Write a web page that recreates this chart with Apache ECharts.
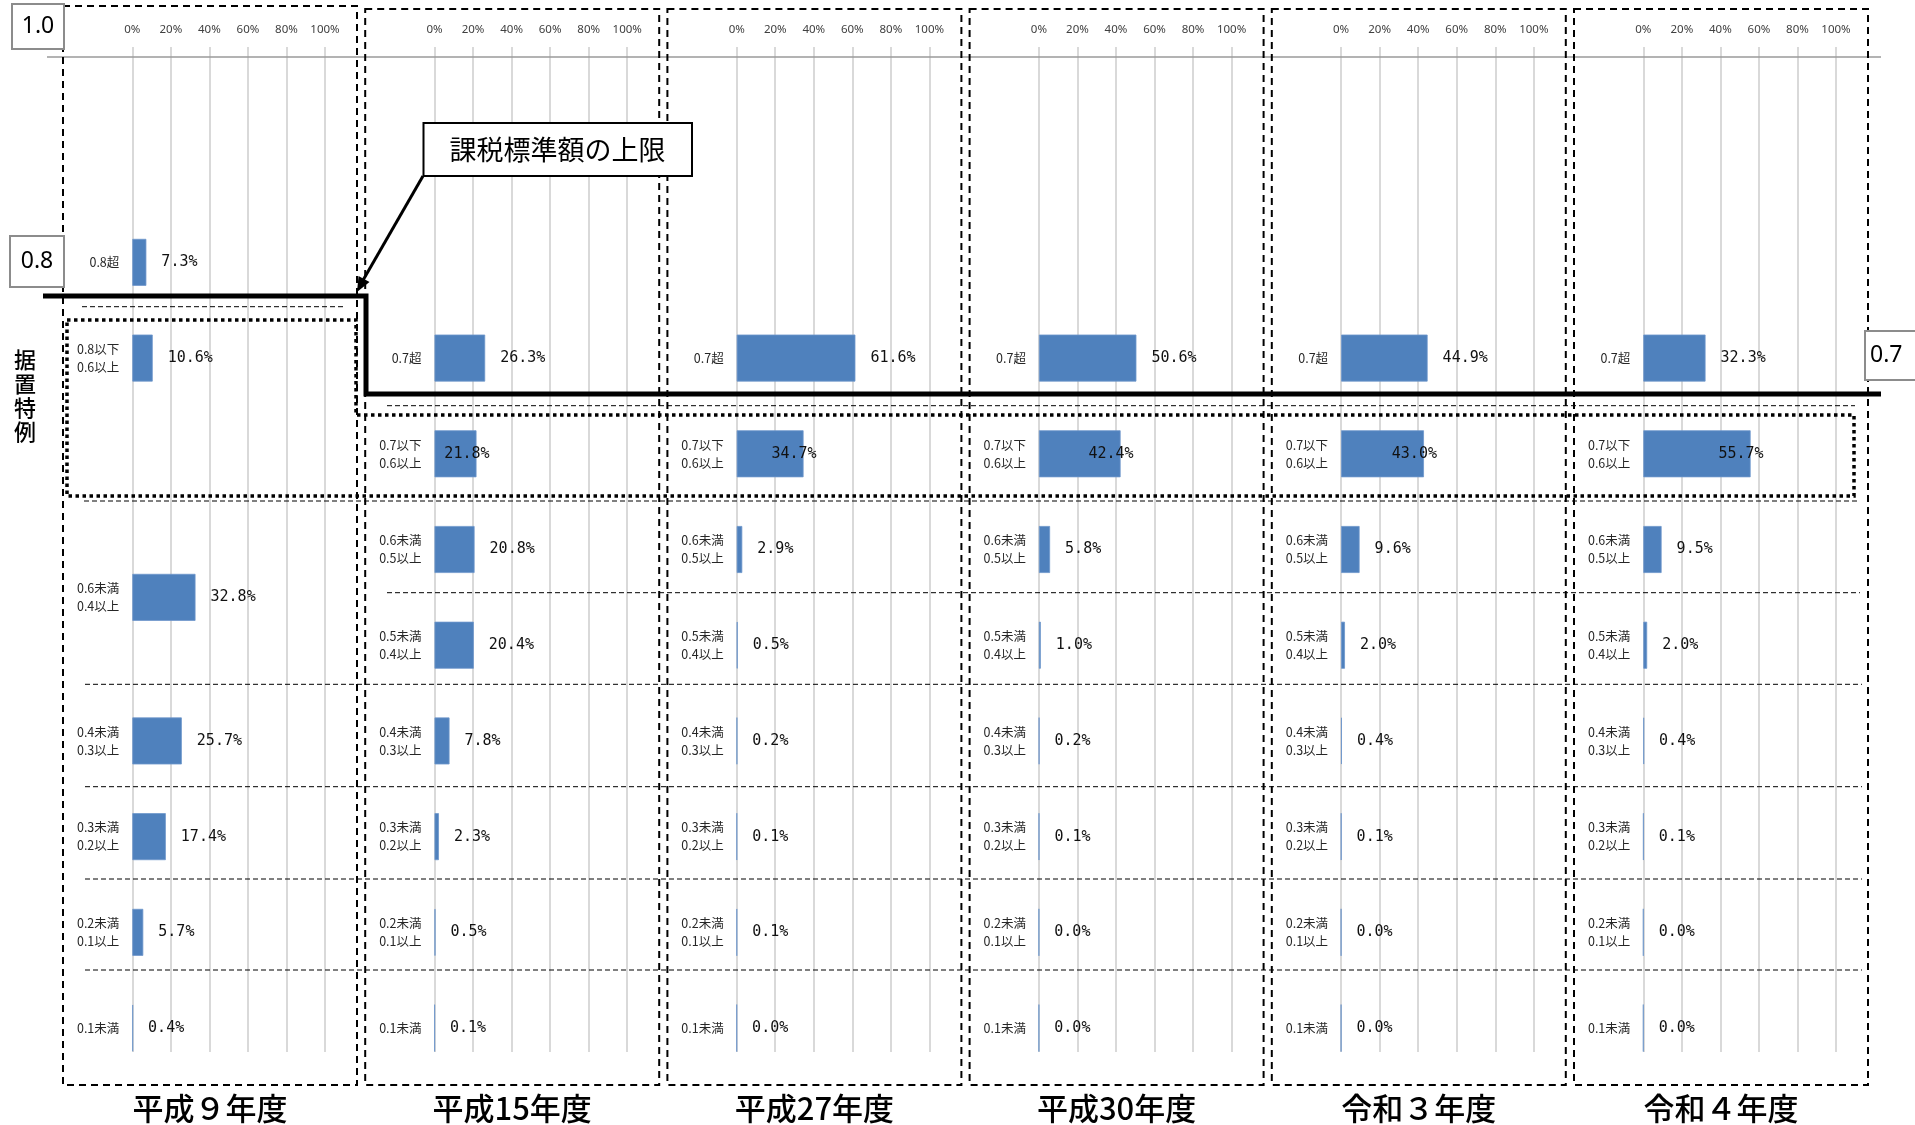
<!DOCTYPE html>
<html>
<head>
<meta charset="utf-8">
<script src="https://cdn.jsdelivr.net/npm/echarts/dist/echarts.min.js"></script>
<style>
html,body{margin:0;padding:0;background:#fff;}
#chart{width:1915px;height:1125px;}
</style>
</head>
<body>
<div id="chart"></div>
<script>
// ---------------- data ----------------
const years = ['平成９年度', '平成15年度', '平成27年度', '平成30年度', '令和３年度', '令和４年度'];
const rowsH9 = ['0.8超', '0.8以下\n0.6以上', '0.6未満\n0.4以上', '0.4未満\n0.3以上', '0.3未満\n0.2以上', '0.2未満\n0.1以上', '0.1未満'];
const rowsLater = ['0.7超', '0.7以下\n0.6以上', '0.6未満\n0.5以上', '0.5未満\n0.4以上', '0.4未満\n0.3以上', '0.3未満\n0.2以上', '0.2未満\n0.1以上', '0.1未満'];
const valuesH9  = [7.3, 10.6, 32.8, 25.7, 17.4, 5.7, 0.4];
const valuesH15 = [26.3, 21.8, 20.8, 20.4, 7.8, 2.3, 0.5, 0.1];
const valuesH27 = [61.6, 34.7, 2.9, 0.5, 0.2, 0.1, 0.1, 0.0];
const valuesH30 = [50.6, 42.4, 5.8, 1.0, 0.2, 0.1, 0.0, 0.0];
const valuesR3  = [44.9, 43.0, 9.6, 2.0, 0.4, 0.1, 0.0, 0.0];
const valuesR4  = [32.3, 55.7, 9.5, 2.0, 0.4, 0.1, 0.0, 0.0];
const axisMin = 0, axisMax = 100, axisStep = 20;
const upperLimitLabel = '課税標準額の上限';
const specialLabel = '据置特例';
const levelLabels = ['1.0', '0.8', '0.7'];

// ---------------- layout ----------------
const SLOTS = 21;                        // half-row slots on the category axis
const slotsH9 = [4, 6, 11, 14, 16, 18, 20];
const slotsLater = [6, 8, 10, 12, 14, 16, 18, 20];
const panels = [
  {title: years[0], rows: rowsH9, slots: slotsH9, values: valuesH9, inside: -1},
  {title: years[1], rows: rowsLater, slots: slotsLater, values: valuesH15, inside: 1},
  {title: years[2], rows: rowsLater, slots: slotsLater, values: valuesH27, inside: 1},
  {title: years[3], rows: rowsLater, slots: slotsLater, values: valuesH30, inside: 1},
  {title: years[4], rows: rowsLater, slots: slotsLater, values: valuesR3, inside: 1},
  {title: years[5], rows: rowsLater, slots: slotsLater, values: valuesR4, inside: 1}
];
const STEP = 302.2, GRID_LEFT = 132.3, GRID_W = 192.7, GRID_TOP = 47, GRID_H = 1005;
const PANEL_LEFT = 63, PANEL_W = 294, PANEL_BOTTOM = 1085;

const grids = [], xAxes = [], yAxes = [], series = [], graphics = [];
panels.forEach((p, i) => {
  grids.push({left: GRID_LEFT + i * STEP, top: GRID_TOP, width: GRID_W, height: GRID_H});
  xAxes.push({
    type: 'value', gridIndex: i, position: 'top', min: axisMin, max: axisMax, interval: axisStep,
    axisLine: {show: false}, axisTick: {show: false},
    axisLabel: {formatter: '{value}%', margin: 11, fontFamily: 'Noto Sans', fontSize: 11.5, color: '#404040'},
    splitLine: {show: true, lineStyle: {color: '#d9d9d9', width: 2}}
  });
  const cats = new Array(SLOTS).fill('');
  const data = new Array(SLOTS).fill('-');
  p.slots.forEach((s, k) => {
    cats[s] = p.rows[k];
    const item = {value: p.values[k]};
    if (k === p.inside) item.label = {position: 'insideRight', distance: -13};
    data[s] = item;
  });
  yAxes.push({
    type: 'category', gridIndex: i, inverse: true, data: cats,
    axisLine: {show: false}, axisTick: {show: false}, splitLine: {show: false},
    axisLabel: {interval: 0, margin: 13, fontFamily: 'Noto Sans CJK JP', fontSize: 12.5, lineHeight: 18, color: '#262626', align: 'right'}
  });
  series.push({
    type: 'bar', xAxisIndex: i, yAxisIndex: i, data: data, barWidth: 47,
    itemStyle: {color: '#4f81bd', borderColor: '#6f97cc', borderWidth: 0.8},
    label: {show: true, position: 'right', distance: 15, fontFamily: 'DejaVu Sans Mono', fontSize: 15, color: '#111',
      formatter: (q) => q.value.toFixed(1) + '%'},
    animation: false, silent: true
  });
  // panel dashed border
  const pl = PANEL_LEFT + i * STEP;
  const pt = i === 0 ? 6 : 9;
  graphics.push({type: 'rect', z: 50, shape: {x: pl, y: pt, width: PANEL_W, height: PANEL_BOTTOM - pt},
    style: {fill: 'none', stroke: '#000', lineWidth: 2, lineDash: [7, 5]}});
  // year title
  graphics.push({type: 'text', z: 60, x: pl + PANEL_W / 2, y: 1108,
    style: {text: p.title, fill: '#000', font: '500 31px "Noto Sans CJK JP"', align: 'center', verticalAlign: 'middle'}});
});

// thin dashed row separators [y, x1, x2]
const seps = [[306.7, 82, 345], [405.7, 387, 1855], [501, 84, 1858], [592.7, 387, 1860],
              [684.3, 85, 1862], [786.7, 85, 1862], [879, 85, 1862], [970, 85, 1862]];
seps.forEach(s => graphics.push({type: 'line', z: 40, shape: {x1: s[1], y1: s[0], x2: s[2], y2: s[0]},
  style: {stroke: '#000', lineWidth: 1, lineDash: [5, 3]}}));

// gray top rule
graphics.push({type: 'line', z: 40, shape: {x1: 47, y1: 57, x2: 1881, y2: 57}, style: {stroke: '#9a9a9a', lineWidth: 1.5}});

// dotted 据置特例 outline
graphics.push({type: 'polygon', z: 55, shape: {points: [[67, 320], [356, 320], [356, 415], [1854, 415], [1854, 496], [67, 496]]},
  style: {fill: 'none', stroke: '#000', lineWidth: 3.5, lineDash: [3.5, 3.5]}});

// thick upper-limit line
graphics.push({type: 'polyline', z: 70, shape: {points: [[43, 296], [366, 296], [366, 394], [1881, 394]]},
  style: {stroke: '#000', lineWidth: 5, lineJoin: 'miter'}});

// annotation box + arrow
graphics.push({type: 'line', z: 80, shape: {x1: 423, y1: 176, x2: 362, y2: 282}, style: {stroke: '#000', lineWidth: 3}});
graphics.push({type: 'polygon', z: 80, shape: {points: [[357, 292], [369.5, 282], [358.5, 276]]}, style: {fill: '#000'}});
graphics.push({type: 'rect', z: 80, shape: {x: 423.5, y: 123, width: 268.5, height: 53}, style: {fill: '#fff', stroke: '#000', lineWidth: 2}});
graphics.push({type: 'text', z: 81, x: 557.5, y: 150, style: {text: upperLimitLabel, fill: '#000', font: '27px "Noto Sans CJK JP"', align: 'center', verticalAlign: 'middle'}});

// level boxes
const levelBoxes = [[12, 4, 52, 45], [10, 236, 54, 51], [1865, 331, 60, 49]];
levelBoxes.forEach((b, k) => {
  graphics.push({type: 'rect', z: 85, shape: {x: b[0], y: b[1], width: b[2], height: b[3]}, style: {fill: '#fff', stroke: '#8c8c8c', lineWidth: 2}});
  graphics.push({type: 'text', z: 86, x: k === 2 ? 1870 : b[0] + b[2] / 2, y: b[1] + b[3] / 2,
    style: {text: levelLabels[k], fill: '#000', font: '23px "Noto Sans"', align: k === 2 ? 'left' : 'center', verticalAlign: 'middle'}});
});

// vertical 据置特例
graphics.push({type: 'text', z: 86, x: 25, y: 396,
  style: {text: specialLabel.split('').join('\n'), fill: '#000', font: '500 22px "Noto Sans CJK JP"', lineHeight: 24, align: 'center', verticalAlign: 'middle'}});

const chart = echarts.init(document.getElementById('chart'), null, {renderer: 'canvas'});
chart.setOption({
  animation: false,
  backgroundColor: '#fff',
  grid: grids, xAxis: xAxes, yAxis: yAxes, series: series, graphic: graphics
});
</script>
</body>
</html>
